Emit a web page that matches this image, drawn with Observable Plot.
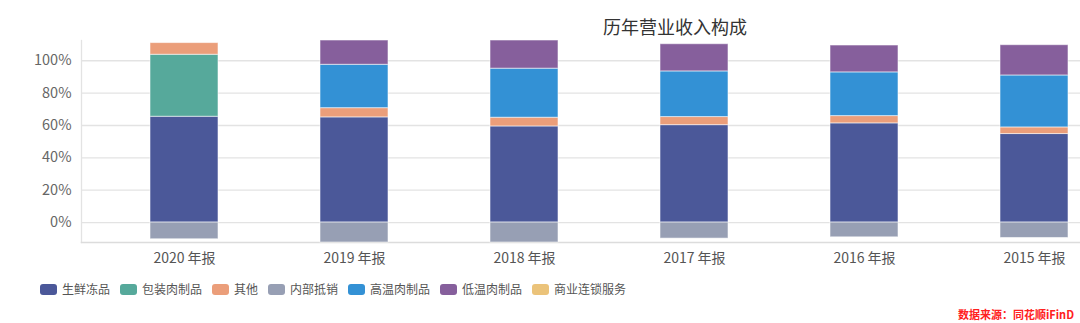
<!DOCTYPE html>
<html>
<head>
<meta charset="utf-8">
<script src="https://cdn.jsdelivr.net/npm/d3@7"></script>
<script src="https://cdn.jsdelivr.net/npm/@observablehq/plot@0.6"></script>
<style>
  html, body { margin: 0; padding: 0; background: #fff; overflow: hidden; }
  body { width: 1080px; height: 323px; position: relative; font-family: "Noto Sans CJK SC", "Noto Sans", sans-serif; }
  #title { position: absolute; left: 0; width: 1350px; top: 15px; text-align: center; font-size: 18px; line-height: 22px; color: #333; }
  #chart { position: absolute; left: 0; top: 0; }
  #legend { position: absolute; left: 40px; top: 281px; display: flex; align-items: center; font-size: 12px; color: #555; line-height: 16px; }
  #legend .item { display: flex; align-items: center; margin-right: 10px; }
  #legend .sw { width: 17px; height: 11px; border-radius: 3px; margin-right: 5px; }
  #source { position: absolute; left: 958px; top: 307px; font-size: 11px; font-weight: bold; color: #ff2020; line-height: 14px; }
</style>
</head>
<body>
<div id="chart"></div>
<div id="title">历年营业收入构成</div>
<div id="legend"></div>
<div id="source">数据来源：同花顺iFinD</div>
<script>
// Categories
const years = ["2020 年报", "2019 年报", "2018 年报", "2017 年报", "2016 年报", "2015 年报"];
const seriesNames = ["生鲜冻品", "包装肉制品", "其他", "内部抵销", "高温肉制品", "低温肉制品", "商业连锁服务"];
const seriesColors = ["#4b5899", "#56a99b", "#eb9e7a", "#979fb4", "#3391d5", "#865f9c", "#ebc37a"];

// Series values (% of revenue)
const freshFrozen   = [65.4, 65.0, 59.4, 60.2, 61.3, 54.7];
const packagedMeat  = [38.3, 0, 0, 0, 0, 0];
const other         = [7.2, 5.7, 5.4, 5.0, 4.5, 4.1];
const internalElim  = [-10.3, -12.3, -12.3, -9.9, -9.1, -9.5];
const highTempMeat  = [0, 26.8, 30.3, 28.2, 27.0, 32.1];
const lowTempMeat   = [0, 15.0, 17.4, 16.8, 16.6, 18.7];
const retailService = [0, 0, 0, 0, 0, 0];

const yTicks = [0, 20, 40, 60, 80, 100];

const seriesValues = [freshFrozen, packagedMeat, other, internalElim, highTempMeat, lowTempMeat, retailService];
const rows = [];
seriesNames.forEach((s, si) => {
  years.forEach((yr, i) => {
    const v = seriesValues[si][i];
    if (v !== 0) rows.push({year: yr, series: s, value: v});
  });
});

const W = 1080, H = 275, mL = 81, mT = 40, mB = 33;
const nb = years.length, pIn = 0.6, pOut = 0.4;
// band range chosen so the last band extends past the right edge, as in the cropped reference
const step = 170.7;
const xRange = [mL - 1, mL - 1 + step * (nb - pIn + 2 * pOut)];

const chart = Plot.plot({
  width: W,
  height: H,
  marginLeft: mL,
  marginRight: 0,
  marginTop: mT,
  marginBottom: mB,
  style: {fontFamily: '"Noto Sans CJK SC", "Noto Sans", sans-serif', background: "transparent"},
  x: {type: "band", domain: years, range: xRange, paddingInner: pIn, paddingOuter: pOut, align: 0.5, label: null},
  y: {domain: [-12.3, 112.5], label: null},
  color: {domain: seriesNames, range: seriesColors},
  marks: [
    Plot.ruleY(yTicks, {stroke: "#e3e3e3", strokeWidth: 1.3}),
    Plot.frame({anchor: "left", stroke: "#e3e3e3", strokeWidth: 1.3}),
    Plot.frame({anchor: "bottom", stroke: "#dcdcdc", strokeWidth: 1.5}),
    Plot.barY(rows, {x: "year", y: "value", fill: "series", stroke: "#ffffff", strokeOpacity: 0.55, strokeWidth: 1}),
    Plot.axisY({ticks: yTicks, tickFormat: d => d + "%", tickSize: 0, tickPadding: 10, fontSize: 14.5, fill: "#666", stroke: null, label: null}),
    Plot.axisX({tickSize: 0, tickPadding: 11, fontSize: 14, fill: "#555", label: null})
  ]
});
document.getElementById("chart").appendChild(chart);

const legend = document.getElementById("legend");
seriesNames.forEach((s, i) => {
  const item = document.createElement("div");
  item.className = "item";
  const sw = document.createElement("div");
  sw.className = "sw";
  sw.style.background = seriesColors[i];
  const t = document.createElement("span");
  t.textContent = s;
  item.appendChild(sw);
  item.appendChild(t);
  legend.appendChild(item);
});
</script>
</body>
</html>
